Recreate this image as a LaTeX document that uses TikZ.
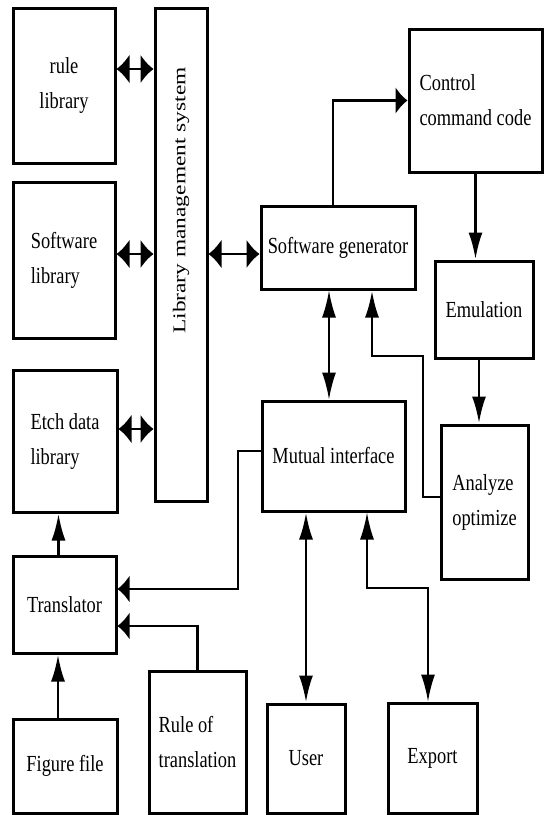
\documentclass[tikz,border=0pt]{standalone}
\usepackage{fontspec}
\setmainfont[FakeStretch=0.8]{Liberation Serif}
\newfontfamily\lmsfont[FakeStretch=1.3]{Liberation Serif}
\usetikzlibrary{arrows.meta}

\begin{document}
\begin{tikzpicture}[x=1pt, y=-1pt,
    box/.style={draw, line width=3pt, inner sep=0pt, align=left,
        font=\fontsize{23}{35}\selectfont},
    link/.style={line width=2.8pt},
    thinlink/.style={line width=2pt},
    vtip/.style={-{Latex[length=27pt,width=14pt]}},
    htip/.style={-{Latex[length=12pt,width=28pt]}},
    hboth/.style={{Latex[length=13pt,width=30pt]}-{Latex[length=13pt,width=30pt]}},
    vboth/.style={{Latex[length=27pt,width=14pt]}-{Latex[length=27pt,width=14pt]}}]
    \useasboundingbox (0,0) rectangle (551,815);
    % Libraries
    \node[box, minimum width=102pt, minimum height=155pt, align=center] (rule) at (64,85.5) {rule\\library};
    \node[box, minimum width=102pt, minimum height=156pt] (soft) at (64,260) {Software\\library};
    \node[box, minimum width=104pt, minimum height=142pt] (etch) at (65,441) {Etch data\\library};
    \node[box, minimum width=52pt, minimum height=493pt] (lms) at (181,254.5) {};
    \node[rotate=90, font=\lmsfont\fontsize{18}{20}\selectfont] (lmstext) at ([yshift=54pt]lms.center) {Library management system};
    %
    \node[box, minimum width=154pt, minimum height=83pt] (gen) at (338,247.5) {Software generator};
    \node[box, minimum width=133pt, minimum height=143pt] (code) at (475.5,100.5) {Control\\command code};
    \node[box, minimum width=98pt, minimum height=97pt] (emu) at (484,309.5) {Emulation};
    \node[box, minimum width=87pt, minimum height=154pt] (ana) at (484.5,502) {Analyze\\optimize};
    \node[box, minimum width=143pt, minimum height=110pt] (mutual) at (333.5,456) {Mutual interface};
    %
    \node[box, minimum width=103pt, minimum height=97pt] (trans) at (64.5,604.5) {Translator};
    \node[box, minimum width=104pt, minimum height=94pt] (fig) at (65,766) {Figure file};
    \node[box, minimum width=97pt, minimum height=142pt] (rot) at (197.5,742) {Rule of\\translation};
    \node[box, minimum width=78pt, minimum height=109pt] (user) at (306,758.5) {User};
    \node[box, minimum width=89pt, minimum height=110pt] (export) at (432.5,758) {Export};
    % Ports and bends
    \coordinate (ruleport) at ([yshift=16.5pt]rule.east);
    \coordinate (softport) at ([yshift=6pt]soft.east);
    \coordinate (etchport) at ([yshift=12pt]etch.east);
    \coordinate (genport) at ([yshift=-6.5pt]gen.west);
    \coordinate (emuport) at ([xshift=-5pt]emu.south);
    \coordinate (genlow) at ([xshift=-9pt]gen.south);
    \coordinate (transup) at ([xshift=-6pt]trans.north);
    \coordinate (figup) at ([xshift=-7pt]fig.north);
    \coordinate (anabend) at (423,356);
    \coordinate (mutualbend) at (238,589);
    \coordinate (exportbend) at (428,588);
    % Connectors
    \draw[link, hboth] (ruleport) -- (ruleport -| lms.west);
    \draw[link, hboth] (softport) -- (softport -| lms.west);
    \draw[link, hboth] (etchport) -- (etchport -| lms.west);
    \draw[link, hboth] (genport -| lms.east) -- (genport);
    %
    \draw[link, htip] ([xshift=-5pt]gen.north) |- (code.west);
    \draw[link, vtip] (code.south) -- (code.south |- emu.north);
    \draw[link, vtip] (emuport) -- (emuport |- ana.north);
    \draw[link, vtip] ([yshift=5pt]ana.west) -| (anabend) -| ([xshift=34pt]gen.south);
    \draw[thinlink, vboth] (genlow) -- (genlow |- mutual.north);
    %
    \draw[link, htip] ([yshift=5pt]mutual.west) -| (mutualbend) -- (mutualbend -| trans.east);
    \draw[link, htip] (rot.north) |- ([yshift=-21.5pt]trans.east);
    \draw[link, vtip] (transup) -- (transup |- etch.south);
    \draw[link, vtip] (figup) -- (figup |- trans.south);
    \draw[link, vboth] (mutual.south -| user.north) -- (user.north);
    \draw[thinlink, vboth] ([xshift=33.5pt]mutual.south) |- (exportbend) -- (exportbend |- export.north);
\end{tikzpicture}
\end{document}
